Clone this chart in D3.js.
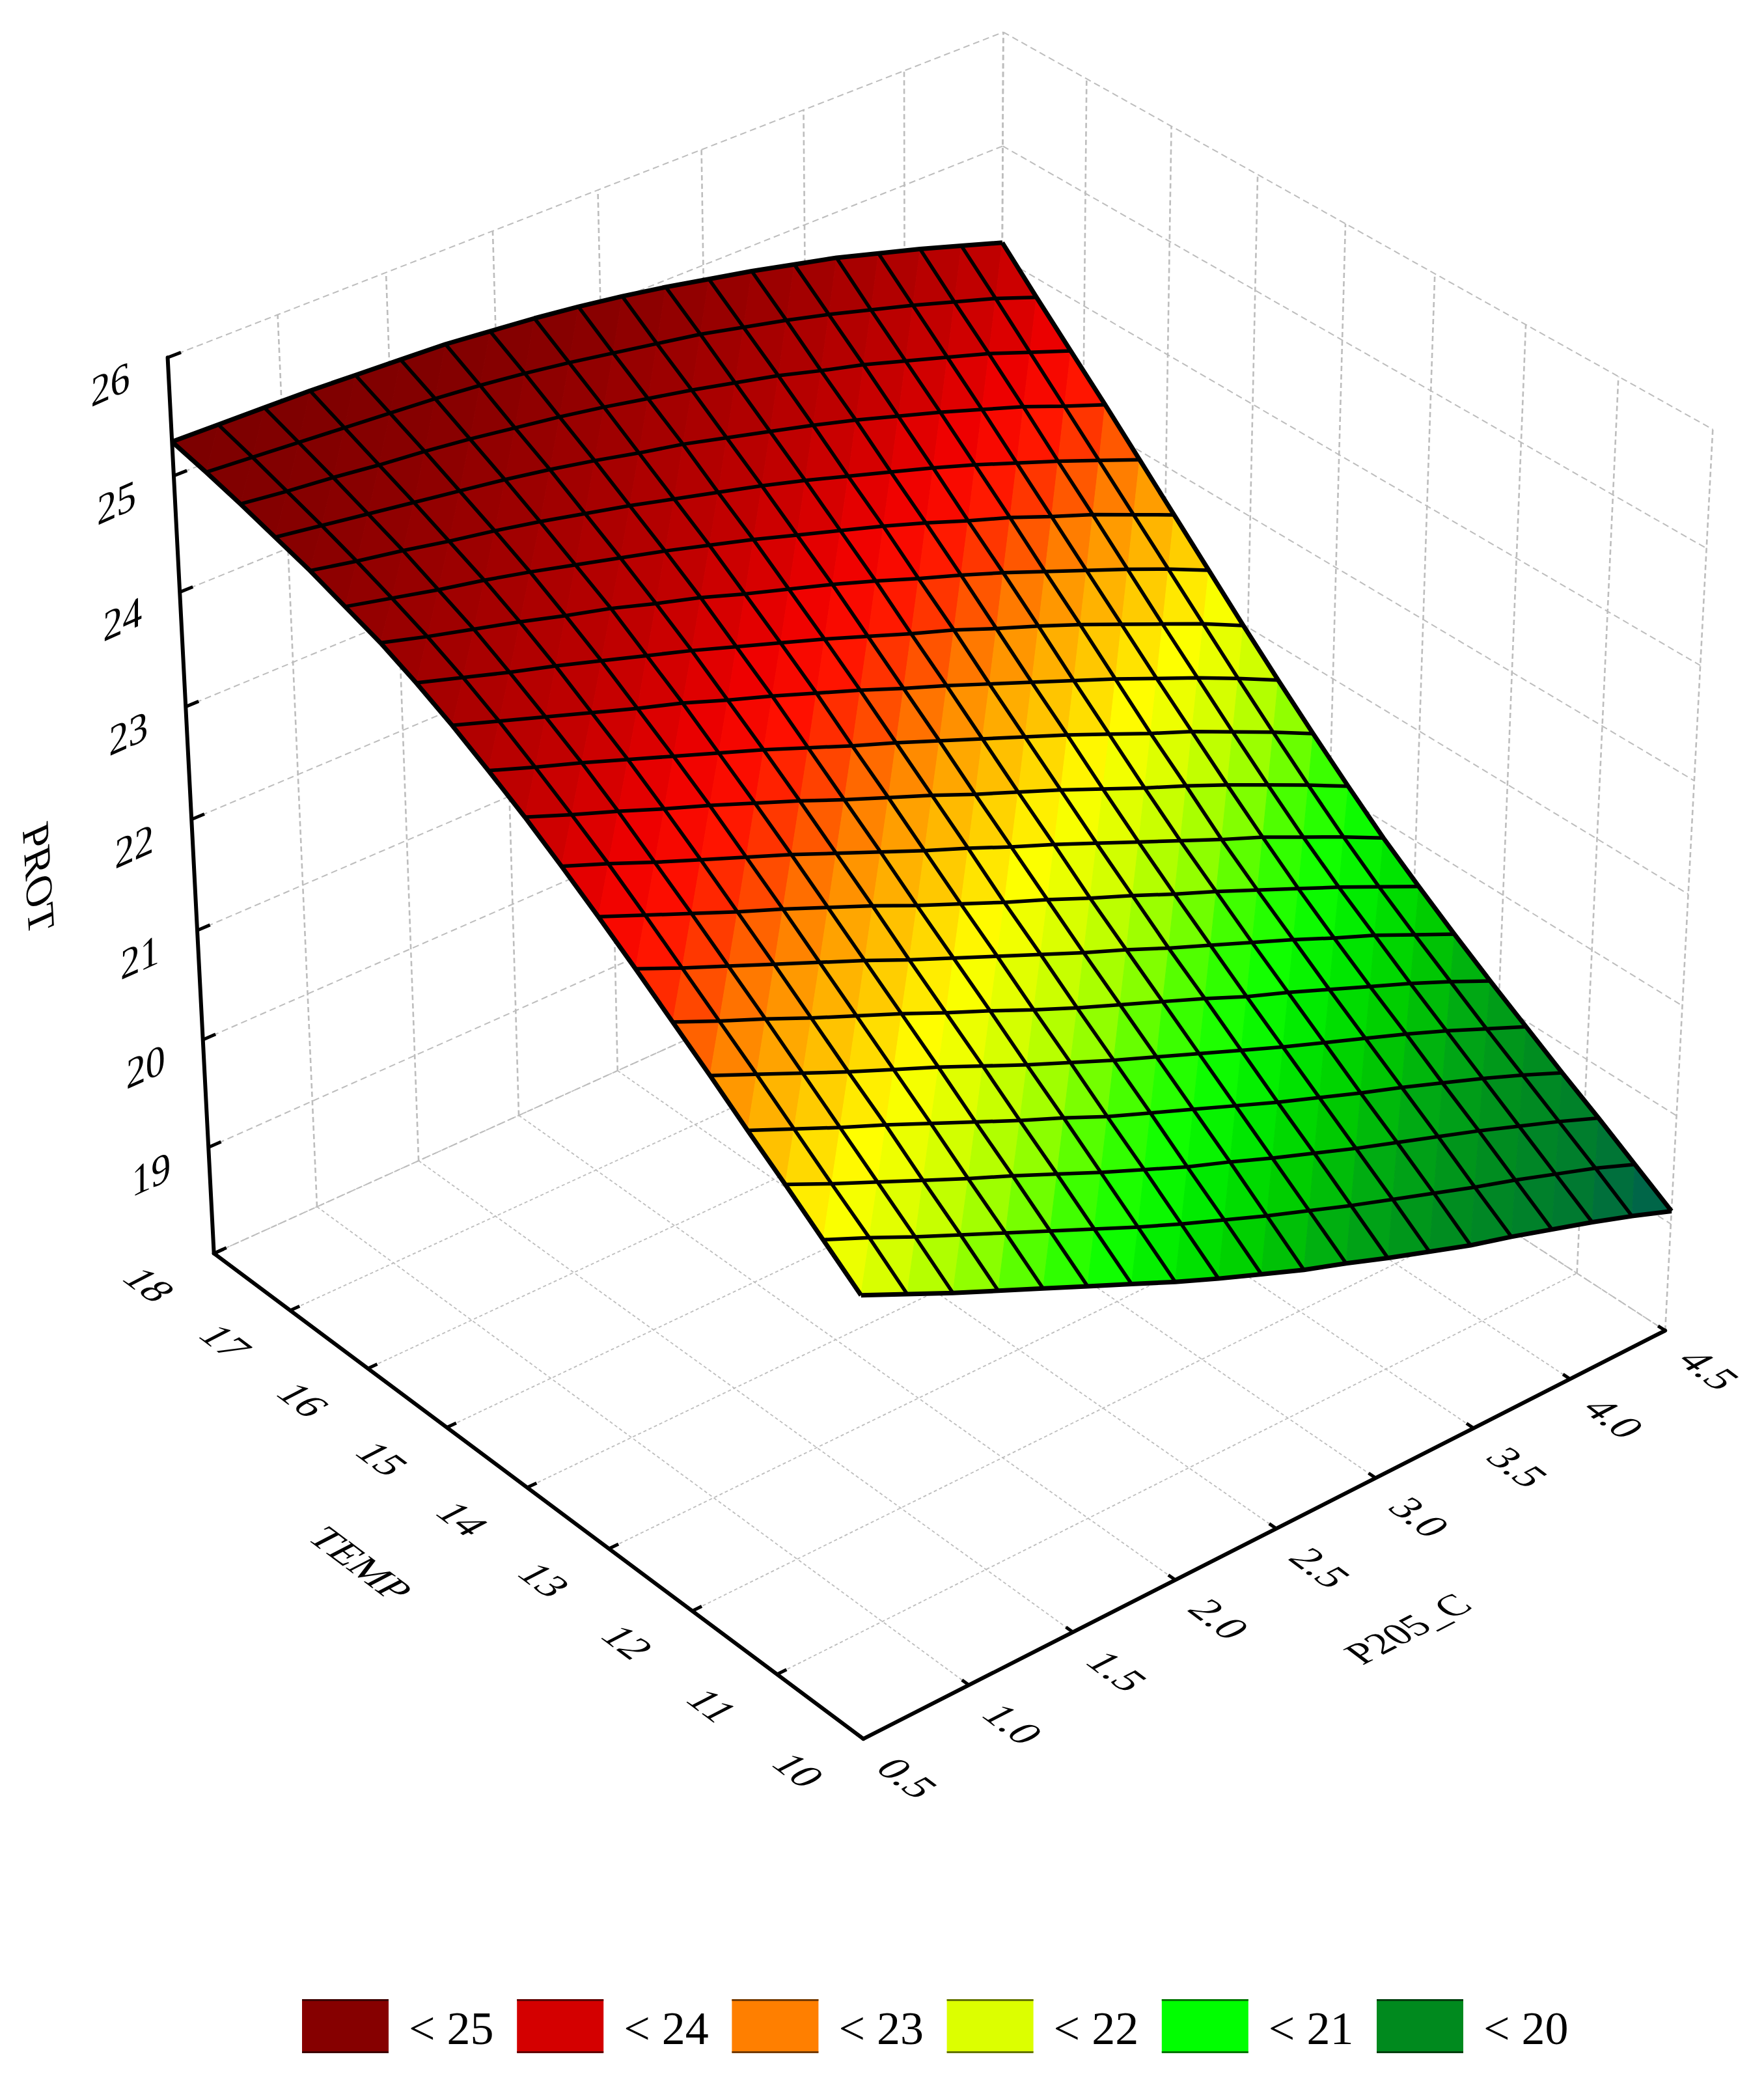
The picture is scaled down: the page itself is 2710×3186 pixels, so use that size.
<!DOCTYPE html>
<html><head><meta charset="utf-8">
<style>html,body{margin:0;padding:0;background:#fff}svg{display:block}</style>
<script src="https://cdn.jsdelivr.net/npm/d3@7"></script></head><body>
<svg id="c" width="2710" height="3186"></svg>
<script>
const pTicks=[0.5,1,1.5,2,2.5,3,3.5,4,4.5];
const pLabels=["0.5","1.0","1.5","2.0","2.5","3.0","3.5","4.0","4.5"];
const tTicks=[10,11,12,13,14,15,16,17,18];
const zTicks=[18,19,20,21,22,23,24,25,26];
const legendLabels=["< 25","< 24","< 23","< 22","< 21","< 20"];
const legendColors=["#860000","#d40000","#ff7f00","#dcff00","#00ff00","#008a1e"];
const colorLevels=[19.15,19.5,19.9,20.2,20.5,20.8,21.05,21.3,21.55,21.85,22.05,22.2,22.45,22.75,22.95,23.15,23.4,23.65,23.85,24.1,24.6,25,25.3];
const colorRange=["#005f50","#007a30","#008f1e","#00a814","#00cc00","#00ea00","#10ff00","#40ff00","#90ff00","#d0ff00","#ecff00","#ffff00","#ffd000","#ffa000","#ff7800","#ff4400","#ff1000","#ee0000","#d80000","#c00000","#a00000","#880000","#7c0000"];
// PROT at each grid node: rows run from TEMP 18 down to TEMP 10, columns from P205_C 0.5 to 4.5
const prot=[
[25.29,25.28,25.27,25.26,25.24,25.22,25.20,25.16,25.12,25.07,25.01,24.94,24.86,24.78,24.69,24.60,24.49,24.38,24.26,24.14],
[25.22,25.19,25.16,25.13,25.10,25.07,25.03,24.98,24.92,24.85,24.78,24.71,24.62,24.53,24.43,24.32,24.21,24.09,23.97,23.83],
[25.14,25.09,25.05,25.00,24.96,24.91,24.85,24.79,24.72,24.64,24.56,24.47,24.38,24.27,24.17,24.05,23.93,23.81,23.67,23.53],
[25.05,24.99,24.93,24.87,24.81,24.75,24.68,24.60,24.51,24.43,24.33,24.23,24.13,24.02,23.90,23.78,23.65,23.52,23.37,23.23],
[24.96,24.88,24.81,24.73,24.66,24.58,24.49,24.40,24.30,24.20,24.10,23.99,23.87,23.75,23.63,23.50,23.36,23.22,23.07,22.92],
[24.85,24.76,24.67,24.59,24.50,24.40,24.30,24.20,24.09,23.98,23.86,23.74,23.62,23.49,23.35,23.22,23.07,22.93,22.77,22.61],
[24.74,24.63,24.53,24.43,24.32,24.22,24.10,23.99,23.86,23.74,23.62,23.49,23.35,23.22,23.08,22.93,22.78,22.63,22.47,22.30],
[24.60,24.48,24.36,24.25,24.13,24.01,23.89,23.76,23.63,23.50,23.36,23.22,23.09,22.94,22.80,22.65,22.49,22.33,22.17,21.99],
[24.44,24.31,24.18,24.05,23.92,23.80,23.66,23.53,23.39,23.25,23.10,22.96,22.81,22.66,22.51,22.36,22.20,22.04,21.87,21.69],
[24.26,24.12,23.99,23.85,23.71,23.57,23.43,23.28,23.13,22.99,22.84,22.69,22.54,22.39,22.23,22.07,21.92,21.75,21.58,21.40],
[24.07,23.92,23.78,23.63,23.49,23.34,23.19,23.03,22.88,22.73,22.57,22.42,22.27,22.11,21.95,21.80,21.64,21.47,21.30,21.12],
[23.86,23.71,23.55,23.40,23.25,23.10,22.94,22.78,22.62,22.47,22.31,22.16,22.00,21.84,21.68,21.52,21.37,21.20,21.03,20.85],
[23.64,23.48,23.32,23.16,23.01,22.85,22.69,22.52,22.36,22.20,22.05,21.89,21.74,21.58,21.43,21.27,21.11,20.95,20.78,20.61],
[23.41,23.24,23.08,22.92,22.76,22.60,22.43,22.27,22.11,21.95,21.79,21.64,21.48,21.33,21.18,21.03,20.87,20.72,20.55,20.38],
[23.17,23.00,22.84,22.67,22.51,22.35,22.18,22.02,21.85,21.69,21.54,21.39,21.24,21.08,20.94,20.79,20.64,20.49,20.33,20.16],
[22.93,22.76,22.59,22.42,22.26,22.10,21.93,21.76,21.60,21.44,21.29,21.14,20.99,20.84,20.70,20.56,20.42,20.27,20.11,19.95],
[22.68,22.51,22.34,22.18,22.01,21.84,21.67,21.51,21.34,21.19,21.04,20.89,20.74,20.60,20.46,20.33,20.19,20.05,19.90,19.74],
[22.44,22.26,22.09,21.92,21.75,21.59,21.42,21.25,21.09,20.93,20.79,20.64,20.50,20.36,20.23,20.10,19.97,19.83,19.69,19.54],
[22.19,22.02,21.84,21.67,21.50,21.33,21.16,20.99,20.83,20.68,20.53,20.39,20.25,20.12,19.99,19.86,19.74,19.61,19.48,19.33],
[21.94,21.76,21.58,21.41,21.24,21.07,20.90,20.73,20.57,20.42,20.27,20.14,20.00,19.87,19.74,19.63,19.51,19.39,19.26,19.12]];
// camera calibration: [P205_C, TEMP, PROT] -> picture position of box points
const anchors=[
[0.5,10,18,1331,2672],[0.5,18,18,324,1927],[4.5,10,18,2563,2044],[0.5,18,26,257,550],[4.5,18,26,1540,51],[4.5,10,26,2633,660],
[0.5,18,25,268,729],[0.5,18,24,275,910],[0.5,18,23,286,1084],[0.5,18,19,319,1759],
[0.5,17,18,449,2016],[0.5,16,18,569,2103],[0.5,15,18,689,2192],
[1,10,18,1485,2590],[1.5,10,18,1644,2507],[2,10,18,1803,2426],[2.5,10,18,1962,2349],[3,10,18,2111,2272],[3.5,10,18,2265,2191],[4,10,18,2409,2117]];
const U=d3.scaleLinear([0.5,4.5],[0,1]),V=d3.scaleLinear([10,18],[0,1]),W=d3.scaleLinear([18,26],[0,1]);
function solve(A,b){const n=b.length;A=A.map((r,i)=>[...r,b[i]]);for(let i=0;i<n;i++){let m=i;for(let k=i;k<n;k++)if(Math.abs(A[k][i])>Math.abs(A[m][i]))m=k;[A[i],A[m]]=[A[m],A[i]];for(let k=i+1;k<n;k++){const f=A[k][i]/A[i][i];for(let c=i;c<=n;c++)A[k][c]-=f*A[i][c];}}const x=Array(n).fill(0);for(let i=n-1;i>=0;i--){let s=A[i][n];for(let c=i+1;c<n;c++)s-=A[i][c]*x[c];x[i]=s/A[i][i];}return x;}
function fit(){const R=[],B=[];anchors.forEach(([p,t,z,x,y])=>{const u=U(p),v=V(t),w=W(z);x/=1000;y/=1000;R.push([u,v,w,1,0,0,0,0,-x*u,-x*v,-x*w]);B.push(x);R.push([0,0,0,0,u,v,w,1,-y*u,-y*v,-y*w]);B.push(y);});
const N=Array.from({length:11},(_,i)=>Array.from({length:11},(_,j)=>d3.sum(R,r=>r[i]*r[j])));const b=Array.from({length:11},(_,i)=>d3.sum(R,(r,k)=>r[i]*B[k]));return solve(N,b);}
const M=fit();
function proj(p,t,z){const u=U(p),v=V(t),w=W(z);const d=M[8]*u+M[9]*v+M[10]*w+1;return [1000*(M[0]*u+M[1]*v+M[2]*w+M[3])/d,1000*(M[4]*u+M[5]*v+M[6]*w+M[7])/d];}
const N=prot.length;
const pGrid=d3.range(N).map(d3.scaleLinear([0,N-1],[0.5,4.5])),tGrid=d3.range(N).map(d3.scaleLinear([0,N-1],[18,10]));
const color=d3.scaleLinear().domain(colorLevels).range(colorRange).clamp(true);
const svg=d3.select("#c");
const line=d3.line();
function seg(g,a,b){g.append("path").attr("d",line([proj(...a),proj(...b)]));}
const gridG=(w,d)=>svg.append("g").attr("fill","none").attr("stroke","#bdbdbd").attr("stroke-width",w).attr("stroke-dasharray",d);
const wallH=gridG(2,"10 6"),wallV=gridG(2.6,"8 5"),floorG=gridG(1.8,"5 4");
zTicks.forEach(z=>{seg(wallH,[0.5,18,z],[4.5,18,z]);seg(wallH,[4.5,18,z],[4.5,10,z]);});
pTicks.forEach(p=>{seg(wallV,[p,18,18],[p,18,26]);seg(floorG,[p,18,18],[p,10,18]);});
tTicks.forEach(t=>{seg(wallV,[4.5,t,18],[4.5,t,26]);seg(floorG,[0.5,t,18],[4.5,t,18]);});
const surf=svg.append("g");
const node=(i,j)=>proj(pGrid[i],tGrid[j],prot[j][i]);
for(let j=0;j<N-1;j++)for(let i=0;i<N-1;i++){
 const A=node(i,j),Bb=node(i+1,j),C=node(i+1,j+1),D=node(i,j+1);
 const z1=(prot[j][i]+prot[j][i+1]+prot[j+1][i])/3,z2=(prot[j][i+1]+prot[j+1][i+1]+prot[j+1][i])/3;
 [[A,Bb,D,z1],[Bb,C,D,z2]].forEach(([a,b,c,z])=>surf.append("path").attr("d",line([a,b,c])+"Z").attr("fill",color(z)).attr("stroke",color(z)).attr("stroke-width",1));
}
const mesh=svg.append("g").attr("fill","none").attr("stroke","#000").attr("stroke-linejoin","round");
d3.range(N).forEach(j=>mesh.append("path").attr("stroke-width",j==0||j==N-1?7:5.5).attr("d",line(d3.range(N).map(i=>node(i,j)))));
d3.range(N).forEach(i=>mesh.append("path").attr("stroke-width",i==0||i==N-1?7:5.5).attr("d",line(d3.range(N).map(j=>node(i,j)))));
const ax=svg.append("g").attr("fill","none").attr("stroke","#000").attr("stroke-width",6).attr("stroke-linecap","round");
seg(ax,[0.5,18,18],[0.5,18,26]);seg(ax,[0.5,10,18],[0.5,18,18]);seg(ax,[0.5,10,18],[4.5,10,18]);
const tk=svg.append("g").attr("fill","none").attr("stroke","#000").attr("stroke-width",5);
zTicks.forEach(z=>seg(tk,[0.5,18,z],[0.56,18,z]));
tTicks.forEach(t=>seg(tk,[0.5,t,18],[0.545,t,18]));
pTicks.forEach(p=>seg(tk,[p,10,18],[p,10.08,18]));
const txt=svg.append("g").attr("font-family","'Liberation Serif'").attr("fill","#000");
function lab(s,x,y,m,fs){txt.append("text").attr("transform",`matrix(${m.join(",")},${x},${y})`).attr("font-size",fs).attr("text-anchor","middle").text(s);}
const mWall=[0.91,-0.41,0,1],mFloor=[0.80,0.60,-0.89,0.46],mP=[0.89,-0.46,0.80,0.60],mZ=[0.06,1,-0.91,0.41];
zTicks.slice(1).forEach(z=>{const q=proj(0.5,18,z);lab(z,q[0]-88,q[1]+63,mWall,66);});
tTicks.forEach(t=>{const q=proj(0.5,t,18);lab(t,q[0]-119,q[1]+58,mFloor,64);});
pTicks.forEach((p,i)=>{const q=proj(p,10,18);lab(pLabels[i],q[0]+48,q[1]+70,mFloor,64);});
lab("TEMP",535,2412,mFloor,62);
lab("P205_C",2179,2514,mP,60);
lab("PROT",40,1358,mZ,64);
const leg=svg.append("g");
const lx=d3.scaleLinear([0,legendLabels.length-1],[464,2115]);
legendLabels.forEach((s,i)=>{
 leg.append("rect").attr("x",lx(i)).attr("y",3071).attr("width",133).attr("height",82).attr("fill",legendColors[i]);
 const dark=d3.rgb(legendColors[i]).darker(2.2);
 [3071,3151].forEach(y=>leg.append("rect").attr("x",lx(i)).attr("y",y).attr("width",133).attr("height",3).attr("fill",dark));
 leg.append("text").attr("x",lx(i)+164).attr("y",3140).attr("font-family","'Liberation Serif'").attr("font-size",72).text(s);});
</script></body></html>
